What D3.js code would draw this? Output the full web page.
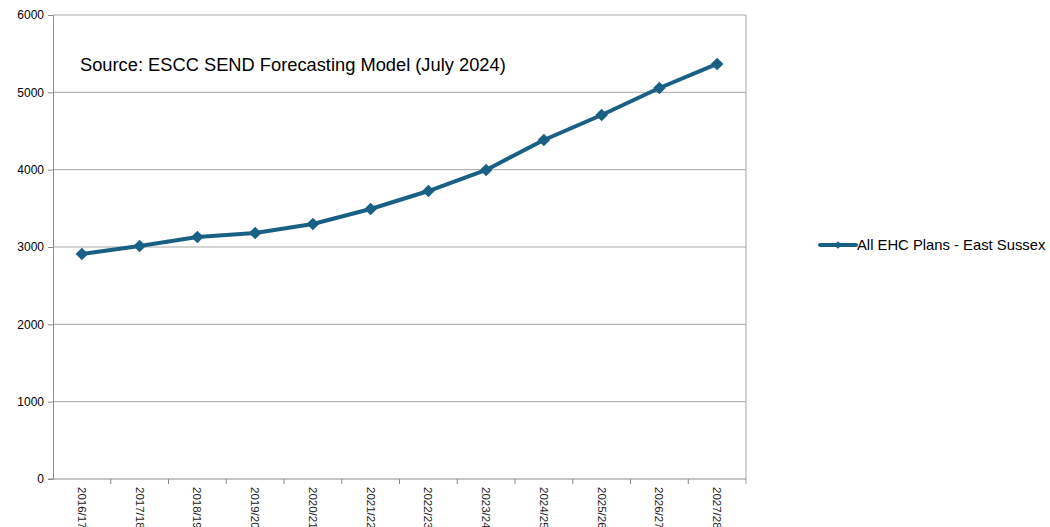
<!DOCTYPE html>
<html>
<head>
<meta charset="utf-8">
<script src="https://cdn.jsdelivr.net/npm/d3@7"></script>
<style>
  body { margin: 0; background: #fff; }
  svg { display: block; font-family: "Liberation Sans", Arial, sans-serif; }
</style>
</head>
<body>
<svg width="1050" height="527"></svg>
<script>
var years = ["2016/17", "2017/18", "2018/19", "2019/20", "2020/21", "2021/22",
  "2022/23", "2023/24", "2024/25", "2025/26", "2026/27", "2027/28"];
var ehcPlans = [2910, 3013, 3129, 3181, 3297, 3491, 3724, 3996, 4384, 4707, 5056, 5367];
var yTicks = [0, 1000, 2000, 3000, 4000, 5000, 6000];
var seriesName = "All EHC Plans - East Sussex";
var sourceNote = "Source: ESCC SEND Forecasting Model (July 2024)";

var svg = d3.select("svg"),
  margin = { top: 15, right: 304, bottom: 48, left: 53 },
  width = +svg.attr("width") - margin.left - margin.right,
  height = +svg.attr("height") - margin.top - margin.bottom,
  lineColor = "#1a6084",
  g = svg.append("g")
    .attr("transform", "translate(" + margin.left + "," + margin.top + ")");

var x = d3.scaleBand().domain(years).range([0, width]);
var y = d3.scaleLinear().domain([0, 6000]).range([height, 0]);

// gridlines
g.selectAll(".grid")
  .data(yTicks.slice(1))
  .enter()
  .append("line")
  .attr("x1", 0)
  .attr("x2", width)
  .attr("y1", function(d) { return y(d); })
  .attr("y2", function(d) { return y(d); })
  .attr("stroke", "#a6a6a6")
  .attr("stroke-width", 1);

// right border
g.append("line")
  .attr("x1", width).attr("x2", width)
  .attr("y1", 0).attr("y2", height + 5)
  .attr("stroke", "#a6a6a6");

// y axis
var yAxis = g.append("g")
  .call(d3.axisLeft(y).tickValues(yTicks).tickSize(5).tickPadding(4).tickFormat(d3.format("d")));
yAxis.select(".domain").attr("stroke", "#8c8c8c");
yAxis.selectAll(".tick line").attr("stroke", "#8c8c8c");
yAxis.selectAll("text").attr("font-size", 12).attr("fill", "#000");

// x axis: ticks on category boundaries
var xAxis = g.append("g").attr("transform", "translate(0," + height + ")");
xAxis.append("line")
  .attr("x1", -5).attr("x2", width)
  .attr("stroke", "#8c8c8c");
xAxis.selectAll(".xt")
  .data(years.slice(1))
  .enter()
  .append("line")
  .attr("x1", function(d) { return x(d); })
  .attr("x2", function(d) { return x(d); })
  .attr("y1", 0).attr("y2", 5)
  .attr("stroke", "#8c8c8c");
xAxis.selectAll(".xl")
  .data(years)
  .enter()
  .append("text")
  .attr("transform", function(d) {
    return "translate(" + (x(d) + x.bandwidth() / 2 - 4) + ",8) rotate(90)";
  })
  .attr("font-size", 11.5)
  .attr("fill", "#222")
  .attr("text-anchor", "start")
  .text(function(d) { return d; });

// line
var line = d3.line()
  .x(function(d, i) { return x(years[i]) + x.bandwidth() / 2; })
  .y(function(d) { return y(d); });

g.append("path")
  .datum(ehcPlans)
  .attr("fill", "none")
  .attr("stroke", lineColor)
  .attr("stroke-width", 4)
  .attr("stroke-linejoin", "round")
  .attr("d", line);

var diamond = d3.symbol().type(d3.symbolSquare).size(80);
g.selectAll(".pt")
  .data(ehcPlans)
  .enter()
  .append("path")
  .attr("transform", function(d, i) {
    return "translate(" + (x(years[i]) + x.bandwidth() / 2) + "," + y(d) + ") rotate(45)";
  })
  .attr("d", diamond)
  .attr("fill", lineColor);

// source note
g.append("text")
  .attr("x", 80 - margin.left)
  .attr("y", 71 - margin.top)
  .attr("font-size", 18.3)
  .attr("fill", "#000")
  .text(sourceNote);

// legend
var lg = svg.append("g").attr("transform", "translate(820,245)");
lg.append("line")
  .attr("x1", 0).attr("x2", 36)
  .attr("stroke", lineColor).attr("stroke-width", 4).attr("stroke-linecap", "round");
lg.append("path")
  .attr("transform", "translate(18,0) rotate(45)")
  .attr("d", d3.symbol().type(d3.symbolSquare).size(30))
  .attr("fill", lineColor);
lg.append("text")
  .attr("x", 37).attr("y", 5)
  .attr("font-size", 14.8)
  .attr("fill", "#000")
  .text(seriesName);
</script>
</body>
</html>
